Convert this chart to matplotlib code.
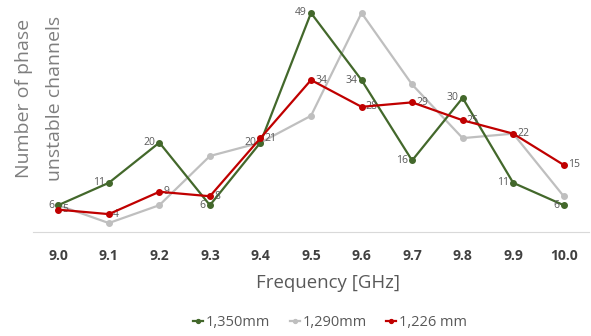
import matplotlib.pyplot as plt

freqs = ["9.0", "9.1", "9.2", "9.3", "9.4", "9.5", "9.6", "9.7", "9.8", "9.9", "10.0"]
g1350 = [6, 11, 20, 6, 20, 49, 34, 16, 30, 11, 6]
g1290 = [6, 2, 6, 17, 20, 26, 49, 33, 21, 22, 8]
g1226 = [5, 4, 9, 8, 21, 34, 28, 29, 25, 22, 15]

plt.rcParams['font.family'] = ['Open Sans', 'DejaVu Sans']

fig = plt.figure(figsize=(5.91, 3.36), dpi=100)
W, H = 591, 336
ax = fig.add_axes([33 / W, 1 - 232 / H, 556 / W, 223.5 / H])

x = range(len(freqs))
green = "#43682b"
grey = "#bfbfbf"
red = "#c00000"
lblc = "#595959"

ax.plot(x, g1350, color=green, lw=1.6, marker="o", ms=4, label="1,350mm", zorder=3)
ax.plot(x, g1290, color=grey, lw=1.6, marker="o", ms=4, label="1,290mm", zorder=2)
ax.plot(x, g1226, color=red, lw=1.6, marker="o", ms=4, label="1,226 mm", zorder=4)

# data labels: green on the left, red on the right
for i, v in enumerate(g1350):
    ax.annotate(str(v), (i, v), xytext=(-3, 0), textcoords="offset points",
                ha="right", va="center", fontsize=7.5, color=lblc)
for i, v in enumerate(g1226):
    ax.annotate(str(v), (i, v), xytext=(3, 0), textcoords="offset points",
                ha="left", va="center", fontsize=7.5, color=lblc)

ax.set_xlim(-0.5, 10.5)
ax.set_ylim(0, 50)
ax.set_xticks(list(x))
ax.set_xticklabels(freqs, fontsize=10, fontweight="bold", color="#404040")
ax.set_yticks([])
ax.tick_params(axis="x", length=0, pad=12)
for s in ["top", "right", "left"]:
    ax.spines[s].set_visible(False)
ax.spines["bottom"].set_color("#d9d9d9")

fig.text(328 / W, 1 - 283 / H, "Frequency [GHz]", ha="center", va="center",
         fontsize=13.4, color=lblc)
fig.text(24 / W, 1 - 98 / H, "Number of phase", rotation=90, ha="center", va="center",
         fontsize=14, color="#7f7f7f")
fig.text(55 / W, 1 - 98 / H, "unstable channels", rotation=90, ha="center", va="center",
         fontsize=14, color="#7f7f7f")

fig.legend(loc="center", bbox_to_anchor=(330 / W, 1 - 323 / H), ncol=3, frameon=False,
           fontsize=10.5, labelcolor=lblc, handlelength=0.7, handletextpad=0.2,
           columnspacing=1.3, markerscale=0.7)

fig.savefig("out.png", dpi=100)
